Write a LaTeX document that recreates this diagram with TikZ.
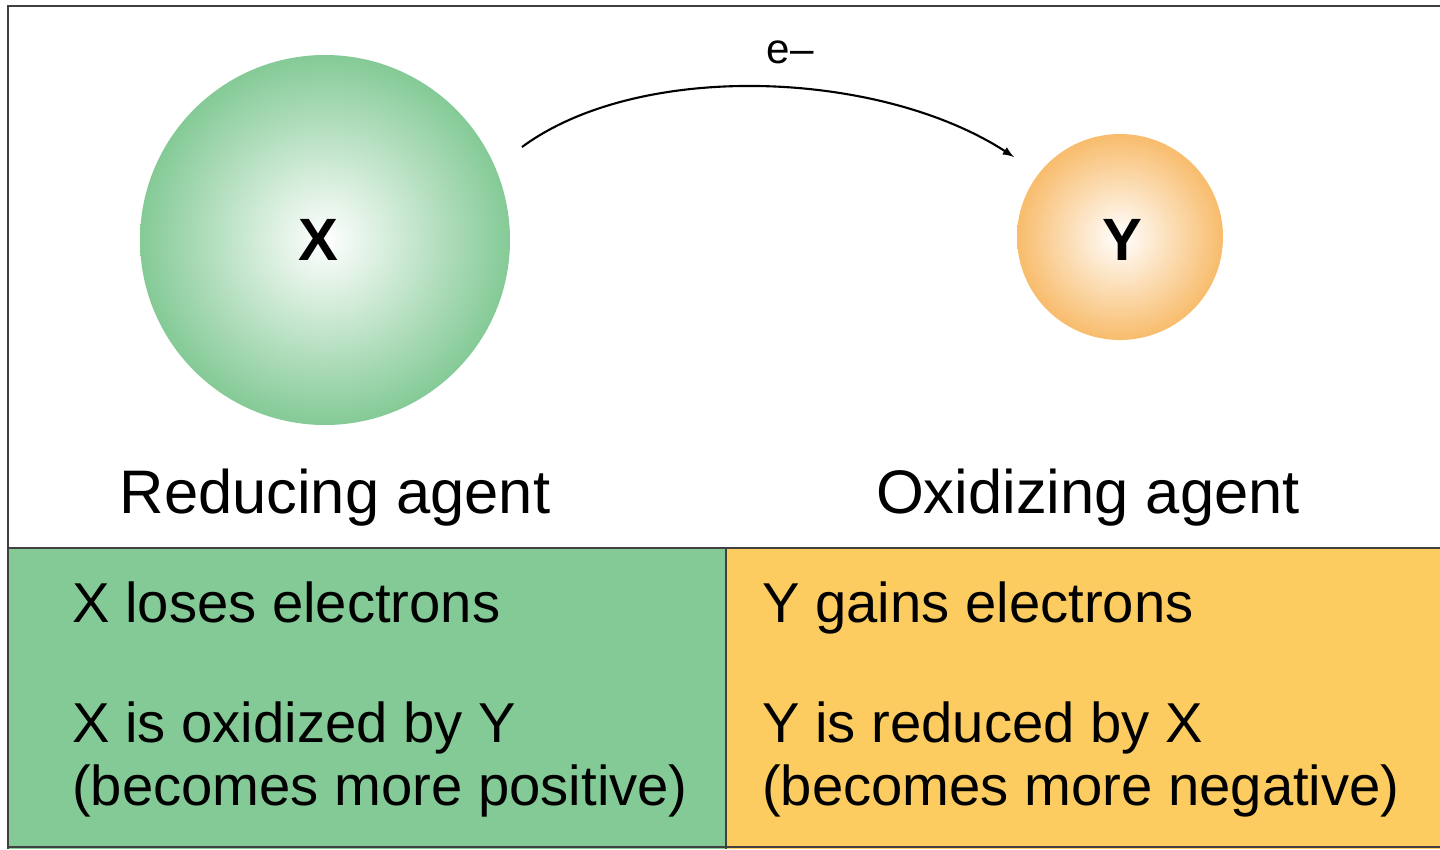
\documentclass[tikz,border=0pt]{standalone}
\usepackage{fontspec}
\setmainfont{Liberation Sans}
\begin{document}
\begin{tikzpicture}[x=0.02cm,y=-0.02cm,
  big/.style={font=\fontsize{35}{40}\selectfont,anchor=base},
  box/.style={font=\fontsize{32}{38}\selectfont,anchor=base west,align=left},
  frame/.style={draw=black!75,line width=1.5pt}]
\useasboundingbox (0,0) rectangle (1440,849);
\definecolor{gr}{RGB}{132,202,150}
\definecolor{orr}{RGB}{252,204,96}
\definecolor{ocirc}{RGB}{248,188,108}
\fill[gr] (8,548) rectangle (726,849);
\fill[orr] (726,548) rectangle (1440,849);
\draw[frame] (8,849) -- (8,6) -- (1440,6);
\draw[frame] (8,548) -- (1440,548);
\draw[frame] (726,548) -- (726,849);
\draw[frame] (8,847) -- (1440,847);
\shade[inner color=white,outer color=gr] (325,240) circle[radius=185];
\shade[inner color=white,outer color=ocirc] (1120,237) circle[radius=103];
\node[font=\fontsize{34}{40}\selectfont\bfseries] (x) at (318,240) {X};
\node[font=\fontsize{34}{40}\selectfont\bfseries] (y) at (1122,240) {Y};
\coordinate (s) at (522,147);
\coordinate (t) at (1014,157);
\draw[line width=1.2pt,-latex] (s) .. controls (640,60) and (880,70) .. (t);
\node[font=\fontsize{24}{28}\selectfont] (e) at (790,52) {e\textendash};
\node[big] (r) at (335,513) {Reducing agent};
\node[big] (o) at (1088,513) {Oxidizing agent};
\node[box] (a1) at (66,622) {X loses electrons};
\node[box] (a2) at (66,742) {X is oxidized by Y};
\node[box] (a3) at (66,805) {(becomes more positive)};
\node[box] (b1) at (756,622) {Y gains electrons};
\node[box] (b2) at (756,742) {Y is reduced by X};
\node[box] (b3) at (756,805) {(becomes more negative)};
\end{tikzpicture}
\end{document}
